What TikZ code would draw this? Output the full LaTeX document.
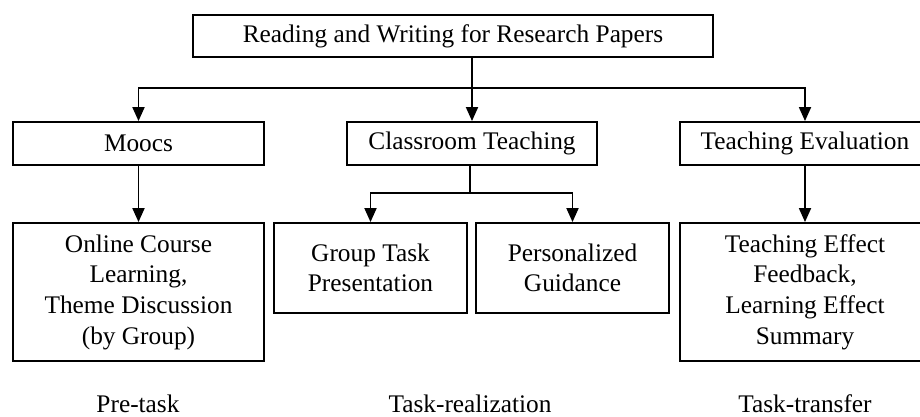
\documentclass[tikz,border=0pt]{standalone}
\usepackage{fontspec}
\setmainfont{Liberation Serif}
\usetikzlibrary{arrows.meta}
\begin{document}
\begin{tikzpicture}[x=0.75pt,y=-0.75pt,
  box/.style={draw,line width=1.4pt,inner sep=0pt,align=center,font=\fontsize{19}{23}\selectfont},
  lbl/.style={inner sep=0pt,anchor=base,font=\fontsize{19}{23}\selectfont},
  arr/.style={line width=1.4pt,-{Triangle[width=9pt,length=10.5pt]}},
  ln/.style={line width=1.4pt}]
\useasboundingbox (0,0) rectangle (920,417);
\node[box,minimum width=520*0.75pt,minimum height=42*0.75pt] (top) at (453,36) {Reading and Writing for Research Papers};
\node[box,minimum width=251*0.75pt,minimum height=43*0.75pt] (moocs) at (138.5,143.5) {Moocs};
\node[box,minimum width=250*0.75pt,minimum height=43*0.75pt] (class) at (472,143.5) {Classroom Teaching};
\node[box,minimum width=250*0.75pt,minimum height=43*0.75pt] (eval) at (805,143.5) {Teaching Evaluation};
\node[box,minimum width=251*0.75pt,minimum height=138*0.75pt] (online) at (138.5,292) {Online Course\\Learning,\\Theme Discussion\\(by Group)};
\node[box,minimum width=193*0.75pt,minimum height=90*0.75pt] (group) at (370.5,268) {Group Task\\Presentation};
\node[box,minimum width=193*0.75pt,minimum height=90*0.75pt] (pers) at (572.5,268) {Personalized\\Guidance};
\node[box,minimum width=250*0.75pt,minimum height=138*0.75pt] (effect) at (805,292) {Teaching Effect\\Feedback,\\Learning Effect\\Summary};
\node[lbl] (pre) at (138,412) {Pre-task};
\node[lbl] (real) at (470,412) {Task-realization};
\node[lbl] (trans) at (805,412) {Task-transfer};
\coordinate (j1) at (472,88);
\coordinate (j2) at (470,193);
\draw[arr] (top.south -| class.north) -- (class.north);
\draw[arr] (j1) -| (moocs.north);
\draw[arr] (j1) -| (eval.north);
\draw[arr] (moocs.south) -- (online.north);
\draw[arr] (eval.south) -- (effect.north);
\draw[ln] (class.south -| j2) -- (j2);
\draw[arr] (j2) -| (group.north);
\draw[arr] (j2) -| (pers.north);
\end{tikzpicture}
\end{document}
